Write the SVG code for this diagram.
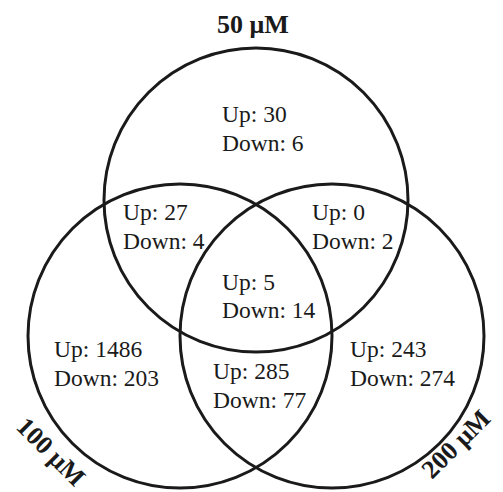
<svg xmlns="http://www.w3.org/2000/svg" width="503" height="492" viewBox="0 0 503 492">
  <style>
    .ring { fill: none; stroke: #1a1a1a; stroke-width: 3; }
    .count { font-family: "Liberation Serif", "Times New Roman", serif; font-size: 23.5px; fill: #1a1a1a; }
    .title { font-family: "Liberation Serif", "Times New Roman", serif; font-size: 26px; font-weight: bold; fill: #1a1a1a; }
  </style>
  <rect width="503" height="492" fill="#ffffff"/>

  <!-- three dose sets -->
  <g id="set-50">
    <circle class="ring" cx="256" cy="200" r="152"/>
    <text class="title" x="253" y="33" text-anchor="middle">50 μM</text>
  </g>
  <g id="set-100">
    <circle class="ring" cx="180" cy="336" r="152"/>
    <text class="title" x="45" y="458" text-anchor="middle" transform="rotate(45 45 458)">100 μM</text>
  </g>
  <g id="set-200">
    <circle class="ring" cx="332" cy="336" r="152"/>
    <text class="title" x="462" y="450" text-anchor="middle" transform="rotate(-45 462 450)">200 μM</text>
  </g>

  <!-- region counts -->
  <g id="only-50">
    <text class="count" x="222" y="122">Up: 30</text>
    <text class="count" x="222" y="151">Down: 6</text>
  </g>
  <g id="50-100">
    <text class="count" x="123" y="220">Up: 27</text>
    <text class="count" x="123" y="249">Down: 4</text>
  </g>
  <g id="50-200">
    <text class="count" x="312" y="220">Up: 0</text>
    <text class="count" x="312" y="249">Down: 2</text>
  </g>
  <g id="all-three">
    <text class="count" x="222" y="290">Up: 5</text>
    <text class="count" x="222" y="318">Down: 14</text>
  </g>
  <g id="only-100">
    <text class="count" x="54" y="357">Up: 1486</text>
    <text class="count" x="54" y="386">Down: 203</text>
  </g>
  <g id="100-200">
    <text class="count" x="213" y="379">Up: 285</text>
    <text class="count" x="213" y="408">Down: 77</text>
  </g>
  <g id="only-200">
    <text class="count" x="350" y="357">Up: 243</text>
    <text class="count" x="350" y="386">Down: 274</text>
  </g>

  <g id="connectors"></g>
</svg>
